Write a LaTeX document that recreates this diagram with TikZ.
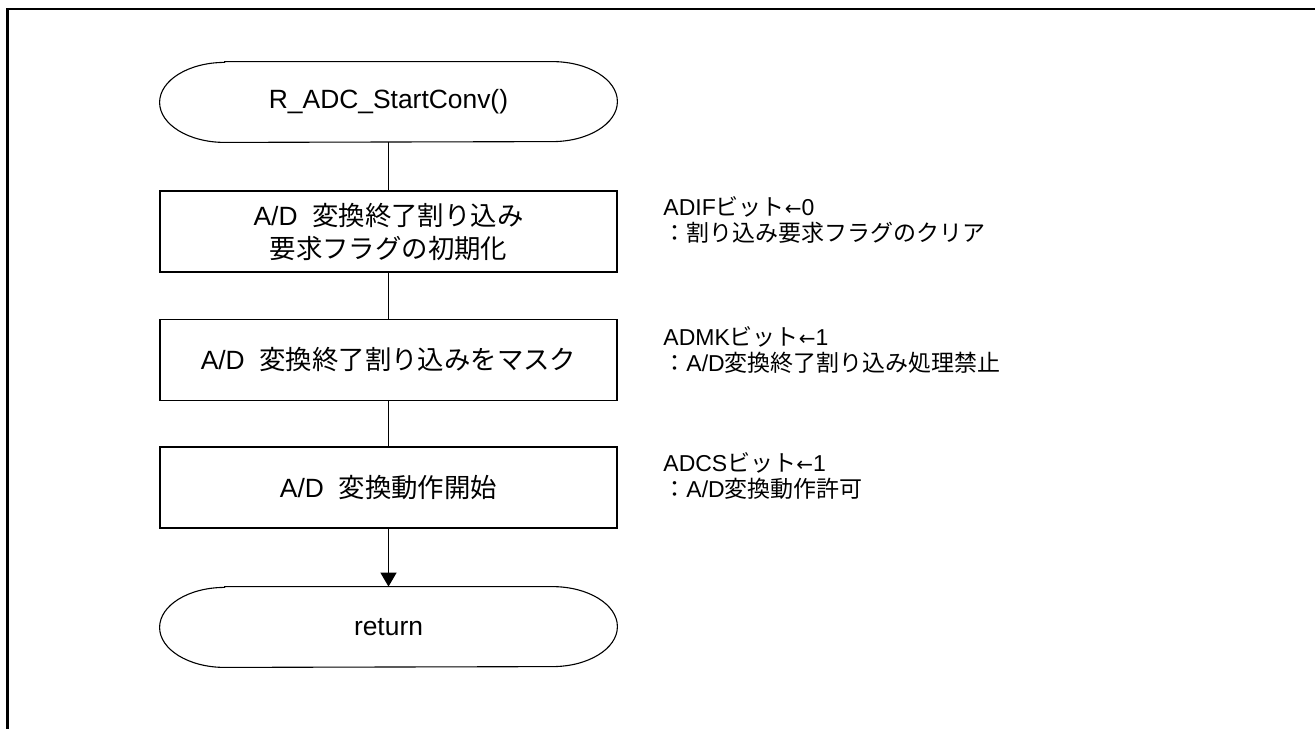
\documentclass[tikz,border=0pt]{standalone}
\usepackage{fontspec}
\setmainfont{Liberation Sans}
\newfontfamily\jp{Noto Sans CJK JP}
\newfontfamily\symf{DejaVu Sans}
\newcommand{\larr}{{\symf\fontsize{10pt}{12pt}\selectfont ←}}
\usetikzlibrary{arrows.meta}
\tikzset{
  proc/.style={draw, line width=0.65pt, minimum width=228.5pt, minimum height=40.5pt,
    inner sep=0pt, align=center, font=\fontsize{13.2pt}{16.5pt}\selectfont},
  term/.style={minimum width=228.5pt, minimum height=40pt, inner sep=0pt,
    font=\fontsize{13.2pt}{16.5pt}\selectfont},
  termline/.style={line width=0.55pt},
  conn/.style={line width=0.65pt},
  note/.style={anchor=base west, inner sep=0pt, font=\fontsize{11.5pt}{14pt}\selectfont},
  frameline/.style={line width=1.1pt}
}
\begin{document}
\begin{tikzpicture}[x=0.5pt, y=-0.5pt]
\useasboundingbox (0,0) rectangle (1315,729);
\draw[frameline] (1315,9) -- (7.5,9) -- (7.5,729);

\node[term] (start) at (388.5,102) {R\_ADC\_StartConv()};
\node[proc] (p1) at (388.5,231.5) {A/D\ \ {\jp 変換終了割り込み}\\{\jp 要求フラグの初期化}};
\node[proc] (p2) at (388.5,360) {A/D\ \ {\jp 変換終了割り込みをマスク}};
\node[proc] (p3) at (388.5,487.5) {A/D\ \ {\jp 変換動作開始}};
\node[term] (ret) at (388.5,627) {return};

\foreach \n in {start,ret}
  \draw[termline] ([xshift=32.5pt]\n.north west) -- ([xshift=-32.5pt]\n.north east)
    arc[start angle=90, end angle=-90, x radius=32.5pt, y radius=20pt]
    -- ([xshift=32.5pt]\n.south west)
    arc[start angle=270, end angle=90, x radius=32.5pt, y radius=20pt] -- cycle;

\draw[conn] (start.south) -- (p1.north);
\draw[conn] (p1.south) -- (p2.north);
\draw[conn] (p2.south) -- (p3.north);
\draw[conn, -{Triangle[length=7pt, width=8pt]}] (p3.south) -- (ret.north);

\node[note] (n1a) at (663,215) {ADIF{\jp ビット}\larr 0};
\node[note] (n1b) at (663,241) {\jp ：割り込み要求フラグのクリア};
\node[note] (n2a) at (663,345) {ADMK{\jp ビット}\larr 1};
\node[note] (n2b) at (663,371) {{\jp ：}A/D{\jp 変換終了割り込み処理禁止}};
\node[note] (n3a) at (663,471) {ADCS{\jp ビット}\larr 1};
\node[note] (n3b) at (663,497) {{\jp ：}A/D{\jp 変換動作許可}};
\end{tikzpicture}
\end{document}
